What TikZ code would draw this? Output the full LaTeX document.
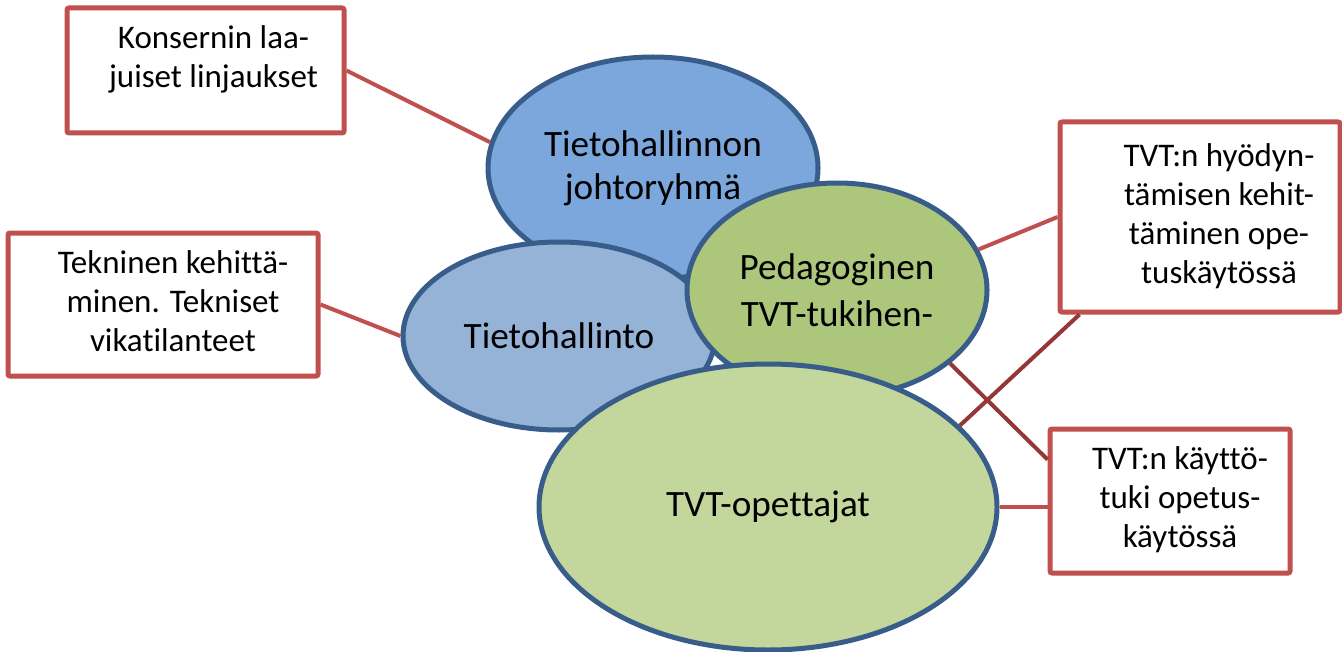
\documentclass[tikz,border=0pt]{standalone}
\usepackage{fontspec}
\setmainfont{Carlito}[Ligatures=NoCommon]
\usepackage{tikz}
\usetikzlibrary{calc,shapes.geometric}

\definecolor{boxred}{HTML}{C0504D}
\definecolor{darkred}{HTML}{953735}
\definecolor{ovalblue}{HTML}{385D8A}
\definecolor{fillA}{HTML}{7CA7DC}
\definecolor{fillB}{HTML}{95B3D7}
\definecolor{fillC}{HTML}{ACC67C}
\definecolor{fillD}{HTML}{C3D69B}

% box text sits a little right of the box centre
\newcommand{\boxlines}[2][10pt]{\hspace*{#1}\begin{tabular}{@{}c@{}}#2\end{tabular}}

\begin{document}
\begin{tikzpicture}[x=0.5pt,y=-0.5pt,line width=2pt,
                    every node/.style={inner sep=0pt, align=center}]
  \tikzstyle{oval}=[ellipse,draw=ovalblue,line width=2.5pt,font=\fontsize{18.6}{21.5}\selectfont]
  \tikzstyle{infobox}=[rectangle,draw=boxred,fill=white,line width=2.5pt,rounded corners=1pt,
                       font=\fontsize{16.5}{19.5}\selectfont]
  \tikzstyle{link}=[draw=boxred]
  \tikzstyle{link2}=[draw=darkred]

    \useasboundingbox (0,0) rectangle (1342,652);

    \node[oval, fill=fillA, minimum width=165pt, minimum height=111pt] (johto) at (653,168) {Tietohallinnon\\ johtoryhmä};
    \node[oval, fill=fillB, minimum width=156pt, minimum height=94pt]  (tieto) at (559,336) {Tietohallinto};
    \node[oval, fill=fillC, minimum width=150pt, minimum height=107pt] (peda) at (837,290)  {Pedagoginen\\[2pt] TVT-tukihen-};
    \node[oval, fill=fillD, minimum width=229pt, minimum height=143pt] (opet) at (768,507)  {TVT-opettajat};

    \node[infobox, minimum width=138.5pt, minimum height=62.5pt] (konserni) at (205.5,70.5) {\boxlines[8pt]{Konsernin laa-\\ juiset linjaukset\\[10pt]}};
    \node[infobox, minimum width=155pt, minimum height=71.5pt]   (tekninen) at (163,304.5)  {\boxlines{Tekninen kehittä-\\ minen. Tekniset\\ vikatilanteet}};
    \node[infobox, minimum width=140pt, minimum height=95pt]     (hyodyn) at (1200,217)     {\boxlines[19pt]{TVT:n hyödyn-\\ tämisen kehit-\\ täminen ope-\\ tuskäytössä}};
    \node[infobox, minimum width=120pt, minimum height=72pt]     (kaytto) at (1170,501)     {\boxlines{TVT:n käyttö-\\ tuki opetus-\\ käytössä}};

  \path (konserni.east) edge[link] (johto.171)
        (tekninen.east) edge[link] (tieto.west)
        (peda.16) edge[link] (hyodyn.west)
        (opet.east) edge[link] (opet.east -| kaytto.west)
        ($(hyodyn.south west)+(22,0)$) edge[link2] (opet.23)
        (peda.-33) edge[link2] ($(kaytto.north west)+(0,33)$);

\end{tikzpicture}
\end{document}
